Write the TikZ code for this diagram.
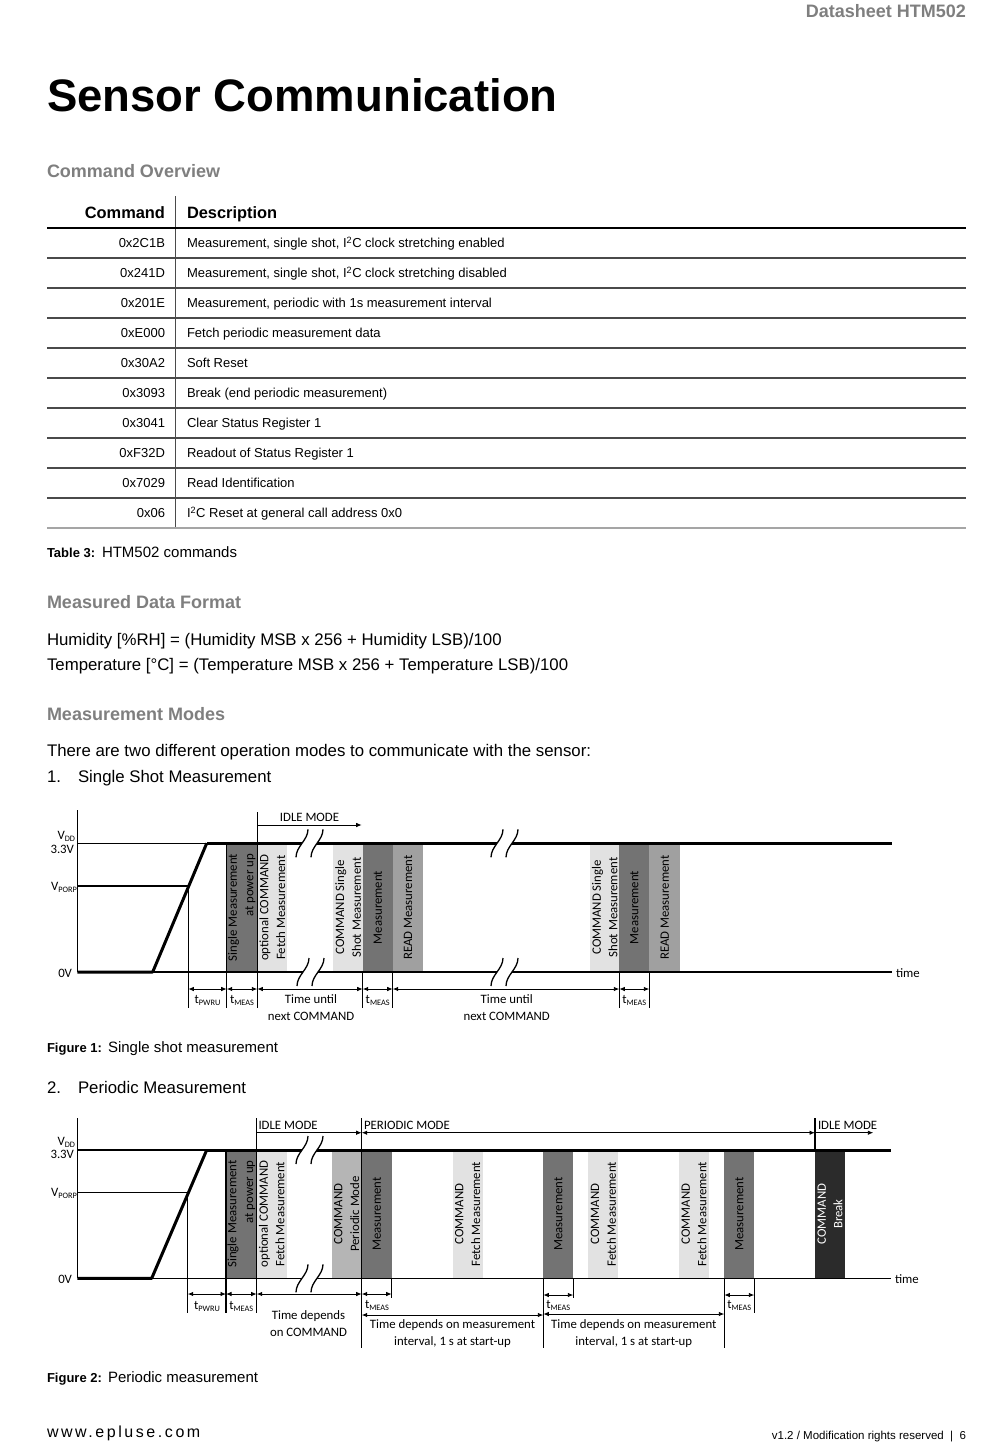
\documentclass[tikz,border=0pt]{standalone}
\usepackage{fontspec}
\setmainfont{Liberation Sans}
\newfontfamily\figfont{Carlito}
\usetikzlibrary{arrows.meta}
\definecolor{headgray}{HTML}{7F7F7F}
\definecolor{bardark}{HTML}{737373}
\definecolor{barmid}{HTML}{A0A0A0}
\definecolor{barlight}{HTML}{E2E2E2}
\definecolor{barperi}{HTML}{B5B5B5}
\definecolor{barblack}{HTML}{2B2B2B}
\definecolor{rowgray}{HTML}{4A4A4A}
\definecolor{botgray}{HTML}{A5A5A5}
\newcommand\lsub[1]{\raisebox{-2.2pt}{\fontsize{8.3}{9}\selectfont #1}}
\newcommand\breakpair[3]{%
  \fill[white] (#1-6,#3+14) .. controls (#1-6,#3+3) and (#1+6,#3-3) .. (#1+6,#3-14)
     -- (#2+6,#3-14) .. controls (#2+6,#3-3) and (#2-6,#3+3) .. (#2-6,#3+14) -- cycle;
  \draw[brk] (#1-6,#3+14) .. controls (#1-6,#3+3) and (#1+6,#3-3) .. (#1+6,#3-14);
  \draw[brk] (#2-6,#3+14) .. controls (#2-6,#3+3) and (#2+6,#3-3) .. (#2+6,#3-14);}
\begin{document}
\begin{tikzpicture}[x=1pt,y=-1pt,
  tx/.style={inner sep=0pt, outer sep=0pt},
  bw/.style={tx, anchor=base west},
  be/.style={tx, anchor=base east},
  bc/.style={tx, anchor=base},
  ftitle/.style={font=\fontsize{45.5}{50}\selectfont\bfseries},
  fhead/.style={font=\fontsize{18}{21}\selectfont\bfseries, text=headgray},
  fbody/.style={font=\fontsize{16.8}{20}\selectfont},
  ftab/.style={font=\fontsize{13}{15}\selectfont},
  ftabh/.style={font=\fontsize{16.4}{19}\selectfont\bfseries},
  fcapb/.style={font=\fontsize{13}{15}\selectfont\bfseries},
  fcap/.style={font=\fontsize{15}{18}\selectfont},
  ffig/.style={font=\figfont\fontsize{12.8}{16.7}\selectfont},
  barlbl/.style={ffig, rotate=90, align=center, inner sep=0pt},
  sig/.style={line width=3pt},
  thinl/.style={line width=1.1pt},
  dim/.style={line width=0.9pt, {Latex[length=5.5pt,width=4.5pt]}-{Latex[length=5.5pt,width=4.5pt]}},
  modearr/.style={line width=0.9pt, -{Latex[length=5.5pt,width=4.5pt]}},
  brk/.style={line width=1.3pt},
  rowl/.style={line width=1.3pt, rowgray}]
\fill[white] (0,0) rectangle (1000,1445);
\useasboundingbox (0,0) rectangle (1000,1445);

% ---------- page text ----------
\node[be, fhead] (hdr) at (966,18) {Datasheet HTM502};
\node[bw, ftitle] (title) at (47,111) {Sensor Communication};
\node[bw, fhead] (h1) at (47,177.5) {Command Overview};

% ---------- table ----------
\node[be, ftabh] (thc) at (165,218) {Command};
\node[bw, ftabh] (thd) at (187,218) {Description};
\draw[line width=0.9pt, rowgray] (175,196) -- (175,528);
\draw[line width=1.8pt] (47,228) -- (966,228);
\foreach \k in {0,...,8} \draw[rowl] (47,{258+30*\k}) -- (966,{258+30*\k});
\draw[line width=1.8pt, botgray] (47,528) -- (966,528);
\foreach \c/\d [count=\i from 0] in {
  0x2C1B/{Measurement, single shot, I\textsuperscript{2}C clock stretching enabled},
  0x241D/{Measurement, single shot, I\textsuperscript{2}C clock stretching disabled},
  0x201E/{Measurement, periodic with 1s measurement interval},
  0xE000/{Fetch periodic measurement data},
  0x30A2/{Soft Reset},
  0x3093/{Break (end periodic measurement)},
  0x3041/{Clear Status Register 1},
  0xF32D/{Readout of Status Register 1},
  0x7029/{Read Identification},
  0x06/{I\textsuperscript{2}C Reset at general call address 0x0}} {
  \node[be, ftab] (c\i) at (165,{247.7+30*\i}) {\c};
  \node[bw, ftab] (d\i) at (187,{247.7+30*\i}) {\d};
}
\node[bw, fcapb] (tcap) at (47,557) {Table 3:};
\node[bw, fcap] (tcapt) at (102,557) {HTM502 commands};

\node[bw, fhead] (h2) at (47,608.5) {Measured Data Format};
\node[bw, fbody] (f1) at (47,645) {Humidity [\%RH] = (Humidity MSB x 256 + Humidity LSB)/100};
\node[bw, fbody] (f2) at (47,670) {Temperature [°C] = (Temperature MSB x 256 + Temperature LSB)/100};
\node[bw, fhead] (h3) at (47,720.5) {Measurement Modes};
\node[bw, fbody] (p1) at (47,756.5) {There are two different operation modes to communicate with the sensor:};
\node[bw, fbody] (n1) at (47,782.5) {1.};
\node[bw, fbody] (n1t) at (78,782.5) {Single Shot Measurement};

% ---------- Figure 1 ----------
\fill[bardark]  (226.7,843) rectangle (256.7,972);
\fill[barlight] (257.3,843) rectangle (287.3,972);
\fill[barlight] (333.3,843) rectangle (362.7,972);
\fill[bardark]  (362.7,843) rectangle (392.7,972);
\fill[barmid]   (392.7,843) rectangle (423.3,972);
\fill[barlight] (590,843) rectangle (619.3,972);
\fill[bardark]  (619.3,843) rectangle (649.3,972);
\fill[barmid]   (649.3,843) rectangle (680,972);
\node[barlbl, align=right] (a1) at (241.7,907.5) {Single Measurement\\at power up};
\node[barlbl] (a2) at (272.3,907.5) {optional COMMAND\\Fetch Measurement};
\node[barlbl] (a3) at (348,907.5) {COMMAND Single\\Shot Measurement};
\node[barlbl] (a4) at (377.7,907.5) {Measurement};
\node[barlbl] (a5) at (408,907.5) {READ Measurement};
\node[barlbl] (a6) at (604.7,907.5) {COMMAND Single\\Shot Measurement};
\node[barlbl] (a7) at (634.3,907.5) {Measurement};
\node[barlbl] (a8) at (664.7,907.5) {READ Measurement};

\draw[thinl] (77.3,810) -- (77.3,972);
\draw[thinl] (77.3,843.3) -- (891.7,843.3);
\draw[sig] (206.7,843.3) -- (891.7,843.3);
\draw[thinl] (77.3,886) -- (188.3,886) -- (188.3,1008);
\draw[thinl] (152.7,972) -- (891.7,972);
\draw[sig, line join=round] (77.3,972) -- (152.7,972) -- (206.7,843.3);
\draw[thinl] (226.7,843) -- (226.7,1008);
\draw[thinl] (257.3,812) -- (257.3,1008);
\foreach \xx in {362.7,392.7,619.3,649.3} \draw[thinl] (\xx,972) -- (\xx,1008);
\breakpair{302}{317}{843.3}
\breakpair{303}{318}{972}
\breakpair{497}{512}{843.3}
\breakpair{497}{512}{972}

\draw[modearr] (257.3,825) -- (361.7,825);
\node[bc, ffig] (m1) at (309.5,821.5) {IDLE MODE};

\node[be, ffig] (v1) at (75,839) {V\lsub{DD}};
\node[be, ffig] (v2) at (74,853.5) {3.3V};
\node[be, ffig] (v3) at (77,890) {V\lsub{PORP}};
\node[be, ffig] (v4) at (72,977) {0V};
\node[bw, ffig] (tm1) at (896,977.5) {time};

\draw[dim] (188.3,989) -- (226.7,989);
\draw[dim] (226.7,989) -- (257.3,989);
\draw[dim] (257.3,989) -- (362.7,989);
\draw[dim] (362.7,989) -- (392.7,989);
\draw[dim] (392.7,989) -- (619.3,989);
\draw[dim] (619.3,989) -- (649.3,989);
\node[bc, ffig] (l1) at (207.5,1003) {t\lsub{PWRU}};
\node[bc, ffig] (l2) at (242,1003) {t\lsub{MEAS}};
\node[bc, ffig, align=center] (l3) at (311,1020.5) {Time until\\next COMMAND};
\node[bc, ffig] (l4) at (377.7,1003) {t\lsub{MEAS}};
\node[bc, ffig, align=center] (l5) at (506.7,1020.5) {Time until\\next COMMAND};
\node[bc, ffig] (l6) at (634.3,1003) {t\lsub{MEAS}};

\node[bw, fcapb] (fc1) at (47,1052) {Figure 1:};
\node[bw, fcap] (fc1t) at (108,1052) {Single shot measurement};
\node[bw, fbody] (n2) at (47,1093) {2.};
\node[bw, fbody] (n2t) at (78,1093) {Periodic Measurement};

% ---------- Figure 2 ----------
\fill[bardark]  (226,1150) rectangle (256.7,1278);
\fill[barlight] (256.7,1150) rectangle (286.7,1278);
\fill[barperi]  (331.7,1150) rectangle (361.7,1278);
\fill[bardark]  (361.7,1150) rectangle (391.7,1278);
\fill[barlight] (452.7,1150) rectangle (482.7,1278);
\fill[bardark]  (543.3,1150) rectangle (573.3,1278);
\fill[barlight] (588.3,1150) rectangle (618.3,1278);
\fill[barlight] (679,1150) rectangle (709,1278);
\fill[bardark]  (724.3,1150) rectangle (754.3,1278);
\fill[barblack] (815,1150) rectangle (845,1278);
\node[barlbl, align=right] (b1) at (241.3,1214) {Single Measurement\\at power up};
\node[barlbl] (b2) at (271.7,1214) {optional COMMAND\\Fetch Measurement};
\node[barlbl] (b3) at (346.7,1214) {COMMAND\\Periodic Mode};
\node[barlbl] (b4) at (376.7,1214) {Measurement};
\node[barlbl] (b5) at (467.7,1214) {COMMAND\\Fetch Measurement};
\node[barlbl] (b6) at (558.3,1214) {Measurement};
\node[barlbl] (b7) at (603.3,1214) {COMMAND\\Fetch Measurement};
\node[barlbl] (b8) at (694,1214) {COMMAND\\Fetch Measurement};
\node[barlbl] (b9) at (739.3,1214) {Measurement};
\node[barlbl, text=white] (b10) at (830,1214) {COMMAND\\Break};

\draw[thinl] (77.3,1118) -- (77.3,1278.3);
\draw[thinl] (77.3,1150) -- (890.7,1150);
\draw[sig] (206.7,1150) -- (890.7,1150);
\draw[thinl] (77.3,1192.7) -- (187.7,1192.7) -- (187.7,1313);
\draw[thinl] (151.7,1278.3) -- (890.7,1278.3);
\draw[sig, line join=round] (77.3,1278.3) -- (151.7,1278.3) -- (206.7,1150);
\draw[thinl] (226,1150) -- (226,1313);
\draw[thinl] (256.7,1118) -- (256.7,1313);
\draw[thinl] (361.7,1118) -- (361.7,1348);
\draw[thinl] (391.7,1278) -- (391.7,1298);
\draw[thinl] (543.3,1278) -- (543.3,1348);
\draw[thinl] (573.3,1278) -- (573.3,1298);
\draw[thinl] (724.3,1278) -- (724.3,1348);
\draw[thinl] (754.3,1278) -- (754.3,1313);
\draw[thinl] (815,1118) -- (815,1150);
\breakpair{302}{317}{1150}
\breakpair{302}{317}{1278.3}

\draw[modearr] (256.7,1132.7) -- (361.7,1132.7);
\draw[dim] (361.7,1132.7) -- (815,1132.7);
\draw[modearr] (815,1132.7) -- (873.3,1132.7);
\node[bw, ffig] (m2) at (258.5,1129) {IDLE MODE};
\node[bw, ffig] (m3) at (364,1129) {PERIODIC MODE};
\node[bw, ffig] (m4) at (818,1129) {IDLE MODE};

\node[be, ffig] (w1) at (75,1145) {V\lsub{DD}};
\node[be, ffig] (w2) at (74,1158.5) {3.3V};
\node[be, ffig] (w3) at (77,1196.5) {V\lsub{PORP}};
\node[be, ffig] (w4) at (72,1283) {0V};
\node[bw, ffig] (tm2) at (895,1283) {time};

\draw[dim] (187.7,1294) -- (226,1294);
\draw[dim] (226,1294) -- (256.7,1294);
\draw[dim] (256.7,1294) -- (361.7,1294);
\draw[dim] (361.7,1294) -- (391.7,1294);
\draw[dim] (361.7,1315) -- (543.3,1315);
\draw[dim] (543.3,1295) -- (573.3,1295);
\draw[dim] (543.3,1314) -- (724.3,1314);
\draw[dim] (724.3,1295) -- (754.3,1295);
\node[bc, ffig] (k1) at (207,1309.5) {t\lsub{PWRU}};
\node[bc, ffig] (k2) at (241.3,1309.5) {t\lsub{MEAS}};
\node[bc, ffig, align=center] (k3) at (308.5,1336) {Time depends\\on COMMAND};
\node[bc, ffig] (k4) at (377,1308.5) {t\lsub{MEAS}};
\node[bc, ffig, align=center] (k5) at (452.5,1345) {Time depends on measurement\\interval, 1 s at start-up};
\node[bc, ffig] (k6) at (558.3,1308.5) {t\lsub{MEAS}};
\node[bc, ffig, align=center] (k7) at (633.8,1345) {Time depends on measurement\\interval, 1 s at start-up};
\node[bc, ffig] (k8) at (739.3,1308.5) {t\lsub{MEAS}};

\node[bw, fcapb] (fc2) at (47,1382) {Figure 2:};
\node[bw, fcap] (fc2t) at (108,1382) {Periodic measurement};

% ---------- footer ----------
\node[bw, font=\fontsize{16}{18}\selectfont\addfontfeatures{LetterSpace=16}] (www) at (47,1437) {www.epluse.com};
\node[be, font=\fontsize{11.5}{13}\selectfont] (ver) at (966,1439) {v1.2 / Modification rights reserved \ | \ 6};
\end{tikzpicture}
\end{document}
